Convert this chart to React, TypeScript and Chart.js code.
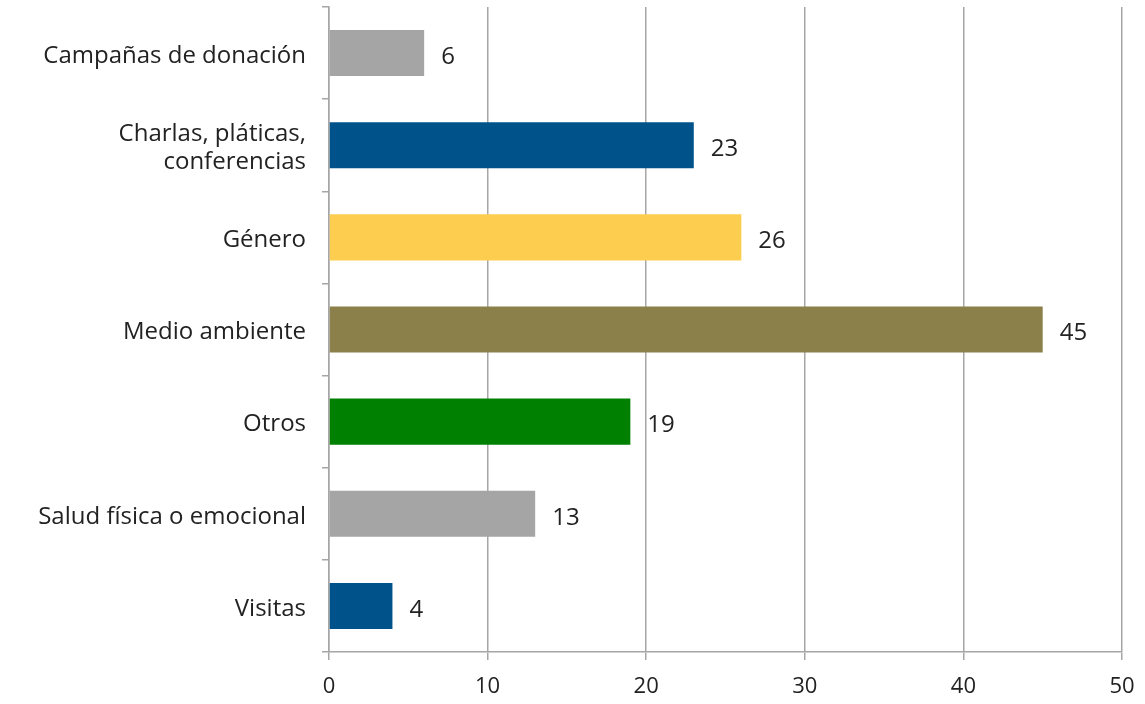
import React, { useEffect, useRef } from "react";
import { Chart, registerables } from "chart.js";

Chart.register(...registerables);

const categories: (string | string[])[] = [
  "Campañas de donación",
  ["Charlas, pláticas,", "conferencias"],
  "Género",
  "Medio ambiente",
  "Otros",
  "Salud física o emocional",
  "Visitas",
];
const values = [6, 23, 26, 45, 19, 13, 4];
const barColors = ["#A5A5A5", "#00538A", "#FDCD4F", "#8B804A", "#008000", "#A5A5A5", "#00538A"];
const xTicks = [0, 10, 20, 30, 40, 50];

const FONT = "'Open Sans', Lato, sans-serif";
const TEXT = "#222222";
const GRID = "#A6A6A6";

const valueLabels = {
  id: "valueLabels",
  afterDatasetsDraw(chart: any) {
    const ctx = chart.ctx;
    const meta = chart.getDatasetMeta(0);
    ctx.save();
    ctx.font = `24px ${FONT}`;
    ctx.fillStyle = TEXT;
    ctx.textAlign = "left";
    ctx.textBaseline = "middle";
    meta.data.forEach((bar: any, i: number) => {
      ctx.fillText(String(values[i]), bar.x + 17, bar.y + 4);
    });
    ctx.restore();
  },
};

export default function App() {
  const ref = useRef<HTMLCanvasElement | null>(null);
  useEffect(() => {
    if (!ref.current) return;
    const chart = new Chart(ref.current, {
      type: "bar",
      data: {
        labels: categories as any,
        datasets: [
          {
            data: values,
            backgroundColor: barColors,
            borderWidth: 0,
            barPercentage: 0.5,
            categoryPercentage: 1,
          },
        ],
      },
      options: {
        indexAxis: "y",
        animation: false,
        responsive: false,
        maintainAspectRatio: false,
        layout: { padding: { top: 7, right: 23, left: 0, bottom: 0 } },
        plugins: { legend: { display: false }, tooltip: { enabled: false } },
        scales: {
          x: {
            min: 0,
            max: 50,
            afterBuildTicks(scale: any) {
              scale.ticks = xTicks.map((v) => ({ value: v }));
            },
            afterFit(scale: any) {
              scale.height = 52;
              scale.paddingLeft = 0;
              scale.paddingRight = 0;
            },
            grid: {
              color: GRID,
              lineWidth: 1.5,
              drawTicks: true,
              tickLength: 8,
            },
            border: { display: true, color: GRID, width: 1.5 },
            ticks: {
              color: TEXT,
              font: { family: FONT, size: 22 },
              padding: 14,
              maxRotation: 0,
            },
          },
          y: {
            afterFit(scale: any) {
              scale.width = 329;
              scale.paddingTop = 0;
              scale.paddingBottom = 0;
            },
            grid: {
              offset: true,
              drawOnChartArea: false,
              drawTicks: true,
              tickLength: 7,
              color: GRID,
              lineWidth: 1.5,
            },
            border: { display: true, color: GRID, width: 1.5 },
            ticks: {
              color: TEXT,
              font: { family: FONT, size: 24, lineHeight: 1.15 },
              padding: 16,
              labelOffset: 3,
            },
          },
        },
      },
      plugins: [valueLabels],
    });
    return () => chart.destroy();
  }, []);
  return (
    <div style={{ position: "fixed", left: 0, top: 0, width: 1145, height: 704, background: "#fff" }}>
      <canvas ref={ref} width={1145} height={704} style={{ width: 1145, height: 704, display: "block" }} />
    </div>
  );
}
